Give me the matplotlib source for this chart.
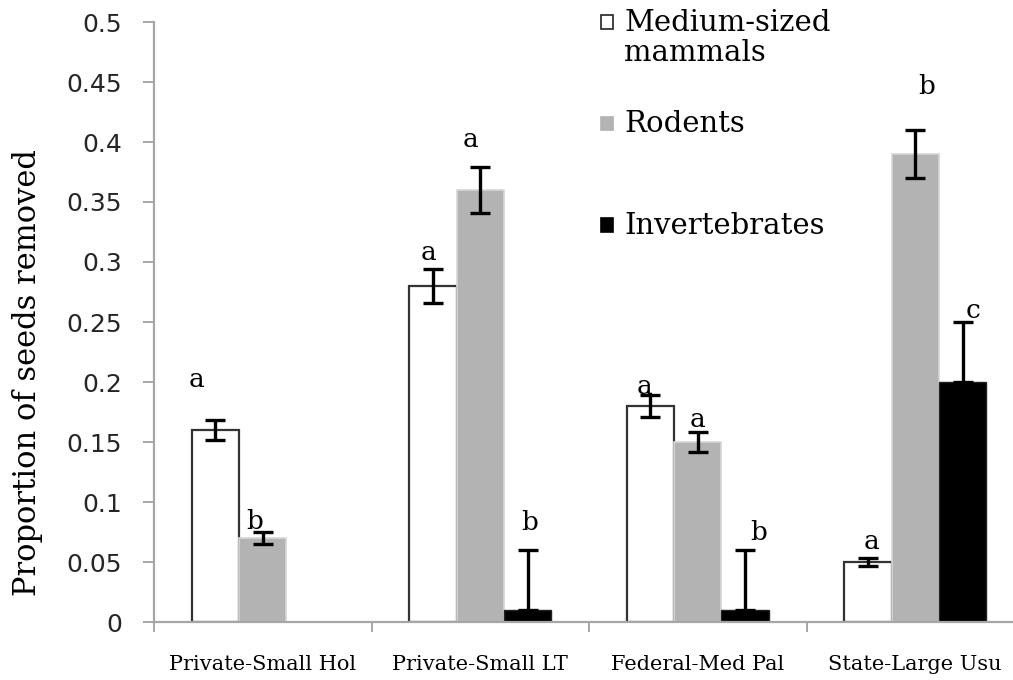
"""Seed removal by guild across four forest ownerships (bar chart with SE bars)."""
import matplotlib
matplotlib.use("Agg")
import matplotlib.pyplot as plt  # noqa: E402
import numpy as np  # noqa: E402
from matplotlib.patches import Rectangle  # noqa: E402
from matplotlib.ticker import FuncFormatter, FixedLocator  # noqa: E402

sites = ["Private-Small Hol", "Private-Small LT", "Federal-Med Pal", "State-Large Usu"]
guilds = ["Medium-sized\nmammals", "Rodents", "Invertebrates"]

mammals = [0.16, 0.28, 0.18, 0.05]
mammals_se = [0.008, 0.014, 0.009, 0.0035]
rodents = [0.07, 0.36, 0.15, 0.39]
rodents_se = [0.005, 0.019, 0.008, 0.02]
inverts = [0.0, 0.01, 0.01, 0.20]
inverts_se_up = [0.0, 0.05, 0.05, 0.05]

# significance letters per site (mammals, rodents, invertebrates) and their heights
letters = [["a", "b", ""], ["a", "a", "b"], ["a", "a", "b"], ["a", "b", "c"]]
letter_y = [[0.202, 0.084, 0], [0.308, 0.402, 0.083],
            [0.196, 0.169, 0.075], [0.067, 0.446, 0.26]]
letter_dx = [[-0.086, -0.036, 0], [-0.02, -0.047, 0.008],
             [-0.027, 0.0, 0.06], [0.017, 0.054, 0.05]]

SERIF = "DejaVu Serif"
AXIS_GREY = "#a6a6a6"

fig = plt.figure(figsize=(10.13, 6.8), dpi=100)
ax = fig.add_axes([154 / 1013, 58 / 680, 870 / 1013, 600 / 680])

x = np.arange(len(sites))
w = 0.218
err_kw = dict(ecolor="black", elinewidth=2.4, capsize=7.5, capthick=2.4)

ax.bar(x - w, mammals, w, color="white", edgecolor="#333333", linewidth=1.6,
       yerr=mammals_se, error_kw=err_kw, zorder=2)
ax.bar(x, rodents, w, color="#b3b3b3", edgecolor="#d6d6d6", linewidth=1.2,
       yerr=rodents_se, error_kw=err_kw, zorder=2)
inv_err = np.array([np.zeros(len(inverts)), inverts_se_up])
inv_vals = np.array(inverts)
has_inv = inv_vals > 0
ax.bar(x[has_inv] + w, inv_vals[has_inv], w, color="black", edgecolor="#222222",
       linewidth=1.0, yerr=inv_err[:, has_inv], error_kw=err_kw, zorder=2)

for i in range(len(sites)):
    for j, off in enumerate((-w, 0, w)):
        if letters[i][j]:
            ax.text(x[i] + off + letter_dx[i][j], letter_y[i][j], letters[i][j],
                    ha="center", va="center", fontsize=19, family=SERIF, zorder=3)

ax.set_xlim(-0.5, len(sites) - 0.5)
ax.set_ylim(0, 0.5)
ax.set_yticks(np.arange(0, 0.501, 0.05))
ax.yaxis.set_major_formatter(FuncFormatter(lambda v, _: f"{v:g}"))
ax.tick_params(axis="y", direction="out", length=8, width=1.4, color=AXIS_GREY,
               labelsize=18, pad=15, labelcolor="#262626")

ax.set_xticks(x, sites, family=SERIF, fontsize=15)
ax.tick_params(axis="x", which="major", length=0, pad=24)
ax.xaxis.set_minor_locator(FixedLocator(np.arange(-0.5, len(sites), 1.0)))
ax.tick_params(axis="x", which="minor", direction="out", length=7, width=1.4,
               color=AXIS_GREY)

for side in ("top", "right"):
    ax.spines[side].set_visible(False)
for side in ("left", "bottom"):
    ax.spines[side].set_color(AXIS_GREY)
    ax.spines[side].set_linewidth(1.6)

ax.set_ylabel("Proportion of seeds removed", family=SERIF, fontsize=22)
ax.yaxis.set_label_coords(-0.128, 0.415)

# legend drawn as in the source figure: fixed slots, labels top-aligned
W, H = 1013, 680
fills = [("white", "#222222"), ("#b3b3b3", "#b3b3b3"), ("black", "black")]
for k, (lab, (fc, ec)) in enumerate(zip(guilds, fills)):
    yc = 22 + k * 101.5
    fig.patches.append(Rectangle(((601) / W, 1 - (yc + 6.5) / H), 12 / W, 13 / H,
                                 transform=fig.transFigure, facecolor=fc,
                                 edgecolor=ec, linewidth=1.2))
    fig.text(624 / W, 1 - (yc - 13) / H, lab, family=SERIF, fontsize=21,
             ha="left", va="top", linespacing=1.1)

fig.savefig("out.png", dpi=100)
